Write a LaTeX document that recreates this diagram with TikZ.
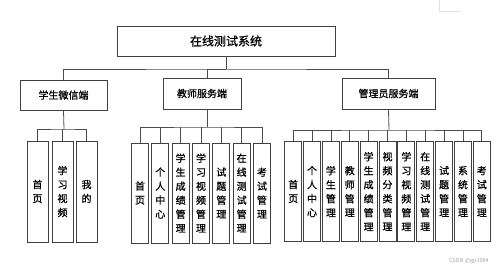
\documentclass[tikz,border=0pt]{standalone}
\usepackage{fontspec}
\setmainfont{Noto Sans CJK SC}[BoldFont={Noto Sans CJK SC},BoldFeatures={FakeBold=0.8}]
\begin{document}
\begin{tikzpicture}[x=1pt,y=-1pt,
  box/.style={draw=black!75,line width=0.8pt,rectangle,inner sep=0pt,fill=white},
  link/.style={draw=black!70,line width=0.8pt},
  leaf/.style={box,minimum width=17pt,minimum height=100pt,align=center,font=\bfseries\fontsize{10pt}{14pt}\selectfont},
  sleaf/.style={box,minimum width=21pt,minimum height=101pt,align=center,font=\bfseries\fontsize{10pt}{14pt}\selectfont}]
\useasboundingbox (0,0) rectangle (500,271);
% top-right artifact
\draw[black!12,line width=0.6pt] (439,0) -- (439,11) -- (460,11);
% top
\node[box,minimum width=218pt,minimum height=30pt,font=\bfseries\fontsize{12pt}{14pt}\selectfont] (top) at (226,41) {在线测试系统};
\node[box,minimum width=87pt,minimum height=30pt,font=\bfseries\fontsize{10pt}{12pt}\selectfont] (stu) at (63.5,95) {学生微信端};
\node[box,minimum width=78pt,minimum height=31pt,font=\bfseries\fontsize{10pt}{12pt}\selectfont] (tea) at (202,93.5) {教师服务端};
\node[box,minimum width=93pt,minimum height=31pt,font=\bfseries\fontsize{10pt}{12pt}\selectfont] (adm) at (388.5,93.5) {管理员服务端};
\coordinate (b1) at (226,69);
\coordinate (tx) at (207,0);
\draw[link] (top.south) -- (b1);
\draw[link] (stu.north) |- (b1) -| (adm.north);
\draw[link] (b1) -| (tea.north -| tx);
% student leaves
\node[sleaf] (s1) at (37.5,191.5) {首\\页};
\node[sleaf] (s2) at (62.5,191.5) {学\\习\\视\\频};
\node[sleaf] (s3) at (86.5,191.5) {我\\的};
\coordinate (sb) at (64,129);
\draw[link] (stu.south) -- (sb);
\draw[link] (s1.north) |- (sb) -| (s3.north);
\draw[link] (s2.north) -- (s2.north |- sb);
% teacher leaves
\foreach \i/\t in {0/{首\\页},1/{个\\人\\中\\心},2/{学\\生\\成\\绩\\管\\理},3/{学\\习\\视\\频\\管\\理},4/{试\\题\\管\\理},5/{在\\线\\测\\试\\管\\理},6/{考\\试\\管\\理}}{
  \node[leaf] (t\i) at ({140+20.33*\i},193) {\t};
}
\coordinate (tb) at (207,127);
\draw[link] (tea.south -| tx) -- (tb);
\draw[link] (t0.north) |- (tb) -| (t6.north);
\foreach \i in {1,...,5}{\draw[link] (t\i.north) -- (t\i.north |- tb);}
% admin leaves
\foreach \i/\t in {0/{首\\页},1/{个\\人\\中\\心},2/{学\\生\\管\\理},3/{教\\师\\管\\理},4/{学\\生\\成\\绩\\管\\理},5/{视\\频\\分\\类\\管\\理},6/{学\\习\\视\\频\\管\\理},7/{在\\线\\测\\试\\管\\理},8/{试\\题\\管\\理},9/{系\\统\\管\\理},10/{考\\试\\管\\理}}{
  \node[leaf] (a\i) at ({293.2+18.86*\i},191.5) {\t};
}
\coordinate (ab) at (389,130);
\draw[link] (adm.south) -- (ab);
\draw[link] (a0.north) |- (ab) -| (a10.north);
\foreach \i in {1,...,9}{\draw[link] (a\i.north) -- (a\i.north |- ab);}
% watermark
\node[text=black!35,font=\fontsize{5.5pt}{6pt}\selectfont,inner sep=0pt] (wm) at (469,261) {CSDN @gp1084};
\end{tikzpicture}
\end{document}
